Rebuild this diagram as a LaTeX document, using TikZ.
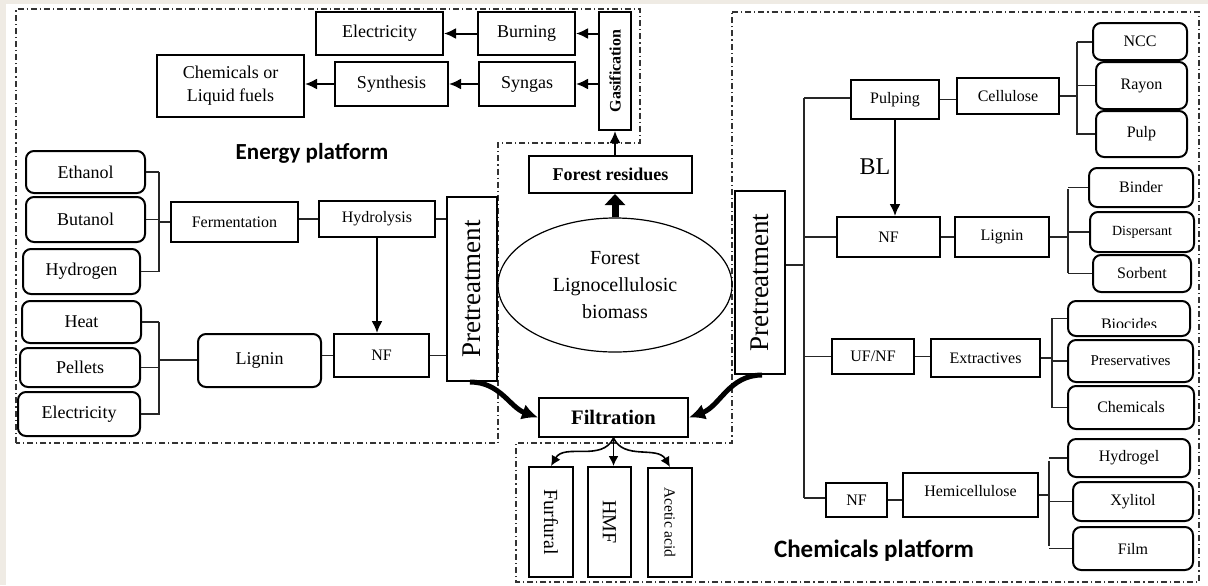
\documentclass[tikz,border=0pt]{standalone}
\usepackage{fontspec}
\setmainfont{Liberation Serif}
\newfontfamily\platfont{Carlito}
\usepackage{graphicx}
\usetikzlibrary{arrows.meta,shapes.geometric}
\definecolor{edgebeige}{HTML}{EFEBE4}
\newcommand\bx[7][]{\node[bx,#1,minimum width={(#5-#3)*0.5pt},minimum height={(#6-#4)*0.5pt}] (#2) at ({(#3+#5)/2},{(#4+#6)/2}) {#7};}
\begin{document}
\begin{tikzpicture}[x=0.5pt,y=-0.5pt,
 bx/.style={draw, line width=1pt, inner sep=0pt, font=\fontsize{8}{10}\selectfont, align=center},
 rbx/.style={rounded corners=4pt},
 f9/.style={font=\fontsize{9}{11}\selectfont},
 pre/.style={font=\fontsize{13.5}{16}\selectfont},
 arr/.style={-{Latex[length=6pt,width=5.5pt]}, line width=1pt},
 thickarr/.style={-{Triangle[length=5.5pt,width=10pt]}, line width=3.5pt},
 curvarr/.style={-{Latex[length=8pt,width=8pt]}, line width=2.5pt},
 parr/.style={-{Latex[length=5pt,width=5pt]}, line width=0.8pt},
 brk/.style={line width=0.55pt, black!85},
 ddot/.style={line width=0.6pt, black!80, dash pattern=on 3pt off 1.5pt on 0.6pt off 1.5pt}]
\useasboundingbox (0,0) rectangle (1208,585);
\fill[white] (0,0) rectangle (1208,585);
\fill[edgebeige] (0,0) rectangle (1208,4);
\fill[edgebeige] (0,0) rectangle (6,585);

% platform borders
\draw[ddot] (16,443) -- (16,9) -- (640,9) -- (640,143) -- (498,143) -- (498,443) -- cycle;
\draw[ddot] (732,12) -- (1199,12) -- (1199,582) -- (516,582) -- (516,443) -- (732,443) -- cycle;

% energy platform top
\bx[f9]{elecA}{316}{12}{443}{55}{Electricity}
\bx[f9]{burn}{478}{12}{575}{55}{Burning}
\bx{gas}{599}{12}{631}{130}{\rotatebox{90}{\bfseries Gasification}}
\bx[f9]{syng}{479}{62}{575}{106}{Syngas}
\bx[f9]{synth}{335}{62}{448}{106}{Synthesis}
\bx[font=\fontsize{9}{11.5}\selectfont]{chemA}{157}{55}{304}{117}{Chemicals or\\Liquid fuels}
\draw[arr] (gas.west |- burn.east) -- (burn.east);
\draw[arr] (gas.west |- syng.east) -- (syng.east);
\draw[arr] (burn.west) -- (burn.west -| elecA.east);
\draw[arr] (syng.west) -- (syng.west -| synth.east);
\draw[arr] (synth.west) -- (synth.west -| chemA.east);

\node[font=\platfont\bfseries\fontsize{11.5}{14}\selectfont] (eplat) at (312,153) {Energy platform};

% energy platform left
\bx[rbx,f9]{eth}{26}{151}{145}{193}{Ethanol}
\bx[rbx,f9]{buta}{26}{197}{145}{242}{Butanol}
\bx[rbx,f9]{hydg}{23}{249}{140}{294}{Hydrogen}
\bx{ferm}{171}{202}{298}{242}{Fermentation}
\bx{hydro}{319}{201}{435}{237}{Hydrolysis}
\bx[pre]{preA}{447}{197}{497}{381}{\rotatebox{90}{Pretreatment}}
\bx{nfA}{334}{334}{429}{377}{NF}
\bx[rbx,f9]{ligA}{198}{334}{321}{387}{Lignin}
\bx[rbx,f9]{heat}{22}{301}{141}{343}{Heat}
\bx[rbx,f9]{pell}{20}{348}{140}{387}{Pellets}
\bx[rbx,f9]{elecB}{18}{392}{140}{436}{Electricity}

\coordinate (b1t) at (159,172);
\coordinate (b1b) at (159,272);
\coordinate (b1m) at (159,222);
\draw[brk] (b1t) -- (b1b);
\draw[brk] (eth.east) -- (eth.east -| b1t);
\draw[brk] (buta.east) -- (buta.east -| b1t);
\draw[brk] (hydg.east) -- (hydg.east -| b1t);
\draw[brk] (b1m) -- (b1m -| ferm.west);
\draw[brk] (ferm.east |- hydro.west) -- (hydro.west);
\draw[brk] (hydro.east) -- (hydro.east -| preA.west);
\draw[arr] (hydro.south) -- (hydro.south |- nfA.north);
\draw[brk] (nfA.east) -- (nfA.east -| preA.west);
\draw[brk] (nfA.west) -- (nfA.west -| ligA.east);
\coordinate (b2t) at (159,322);
\coordinate (b2b) at (159,415);
\coordinate (b2m) at (159,360);
\draw[brk] (b2t) -- (b2b);
\draw[brk] (heat.east) -- (heat.east -| b2t);
\draw[brk] (pell.east) -- (pell.east -| b2t);
\draw[brk] (elecB.east) -- (elecB.east -| b2t);
\draw[brk] (b2m) -- (b2m -| ligA.west);

% centre
\bx[font=\bfseries\fontsize{9}{11}\selectfont]{res}{529}{156}{692}{193}{Forest residues}
\node[ellipse, draw, line width=0.6pt, minimum width=117pt, minimum height=67pt, inner sep=0pt,
  align=center, font=\fontsize{10}{13.5}\selectfont] (bio) at (615,285) {Forest\\Lignocellulosic\\biomass};
\draw[thickarr] (bio.north) -- (bio.north |- res.south);
\draw[arr] (gas.south |- res.north) -- (gas.south);
\bx[pre]{preB}{735}{191}{785}{374}{\rotatebox{90}{Pretreatment}}
\bx[font=\bfseries\fontsize{10.3}{12}\selectfont]{filt}{539}{398}{688}{437}{Filtration}
\draw[curvarr] ([xshift=-1pt]preA.south) to[out=0,in=160] (filt.west);
\draw[curvarr] ([xshift=1pt]preB.south) to[out=180,in=20] (filt.east);
\bx[font=\fontsize{10}{12}\selectfont]{furf}{529}{467}{573}{577}{\rotatebox{-90}{Furfural}}
\bx[font=\fontsize{10}{12}\selectfont]{hmf}{588}{467}{631}{577}{\rotatebox{-90}{HMF}}
\bx[font=\fontsize{7.75}{9}\selectfont]{acet}{648}{468}{692}{577}{\rotatebox{-90}{Acetic acid}}
\draw[parr] (filt.south) to[out=-115,in=60] (furf.north);
\draw[parr] (filt.south) -- (filt.south |- hmf.north);
\draw[parr] (filt.south) to[out=-65,in=120] (acet.north);

% chemicals platform
\bx{pul}{851}{80}{939}{119}{Pulping}
\bx{cel}{957}{78}{1059}{114}{Cellulose}
\bx[rbx]{ncc}{1093}{23}{1187}{60}{NCC}
\bx[rbx]{ray}{1096}{62}{1187}{109}{Rayon}
\bx[rbx]{pulp}{1096}{111}{1187}{157}{Pulp}
\bx{nfB}{837}{217}{940}{257}{NF}
\bx{ligB}{955}{217}{1049}{257}{Lignin}
\bx[rbx]{bind}{1089}{168}{1193}{207}{Binder}
\bx[rbx,font=\fontsize{7}{9}\selectfont]{disp}{1090}{212}{1194}{252}{Dispersant}
\bx[rbx]{sorb}{1093}{255}{1191}{292}{Sorbent}
\bx{ufnf}{832}{339}{914}{374}{UF/NF}
\bx{ext}{931}{339}{1040}{377}{Extractives}
\bx[rbx]{bioc}{1068}{301}{1190}{336}{}
\begin{scope}
\clip (1068,301) rectangle (1190,327);
\node[anchor=base, font=\fontsize{8}{10}\selectfont] (biocT) at (1129,329) {Biocides};
\end{scope}
\bx[rbx,fill=white,font=\fontsize{7.5}{9}\selectfont]{pres}{1068}{340}{1193}{382}{Preservatives}
\bx[rbx]{chemB}{1068}{386}{1194}{429}{Chemicals}
\bx{nfC}{826}{483}{887}{517}{NF}
\bx{hemi}{903}{473}{1038}{517}{}
\node[font=\fontsize{8}{10}\selectfont] (hemiT) at ([yshift=2pt]hemi.center) {Hemicellulose};
\bx[rbx]{hgel}{1068}{439}{1190}{477}{Hydrogel}
\bx[rbx]{xyl}{1073}{482}{1193}{521}{Xylitol}
\bx[rbx]{film}{1073}{527}{1193}{570}{Film}

\coordinate (tt) at (804,98);
\coordinate (tb) at (804,498);
\coordinate (tj) at (804,265);
\draw[brk] (tt) -- (tb);
\draw[brk] (tj -| preB.east) -- (tj);
\draw[brk] (tt) -- (tt -| pul.west);
\draw[brk] (tb) -- (tb -| nfC.west);
\draw[brk] (nfB.west -| tt) -- (nfB.west);
\draw[brk] (ufnf.west -| tt) -- (ufnf.west);
\draw[brk] (pul.east) -- (pul.east -| cel.west);
\draw[arr] (pul.south) -- (pul.south |- nfB.north);
\node[font=\fontsize{12}{14}\selectfont] (bl) at (875,167) {BL};
\coordinate (c1t) at (1077,42);
\coordinate (c1b) at (1077,135);
\draw[brk] (c1t) -- (c1b);
\draw[brk] (cel.east) -- (cel.east -| c1t);
\draw[brk] (c1t) -- (c1t -| ncc.west);
\draw[brk] (ray.west) -- (ray.west -| c1t);
\draw[brk] (pulp.west) -- (pulp.west -| c1t);
\draw[brk] (nfB.east) -- (nfB.east -| ligB.west);
\coordinate (c2t) at (1068,189);
\coordinate (c2b) at (1068,273);
\draw[brk] (c2t) -- (c2b);
\draw[brk] (ligB.east) -- (ligB.east -| c2t);
\draw[brk] (bind.west) -- (bind.west -| c2t);
\draw[brk] (disp.west) -- (disp.west -| c2t);
\draw[brk] (sorb.west) -- (sorb.west -| c2t);
\draw[brk] (ufnf.east) -- (ufnf.east -| ext.west);
\coordinate (c3t) at (1052,318);
\coordinate (c3b) at (1052,408);
\draw[brk] (c3t) -- (c3b);
\draw[brk] (ext.east) -- (ext.east -| c3t);
\draw[brk] (bioc.west) -- (bioc.west -| c3t);
\draw[brk] (pres.west) -- (pres.west -| c3t);
\draw[brk] (chemB.west) -- (chemB.west -| c3t);
\draw[brk] (nfC.east) -- (nfC.east -| hemi.west);
\coordinate (c4t) at (1049,461);
\coordinate (c4b) at (1049,546);
\draw[brk] (c4t) -- (c4b);
\draw[brk] (hemi.east) -- (hemi.east -| c4t);
\draw[brk] (hgel.west) -- (hgel.west -| c4t);
\draw[brk] (xyl.west) -- (xyl.west -| c4t);
\draw[brk] (film.west) -- (film.west -| c4t);

\node[font=\platfont\bfseries\fontsize{12.5}{15}\selectfont] (cplat) at (874,551) {Chemicals platform};
\end{tikzpicture}
\end{document}
